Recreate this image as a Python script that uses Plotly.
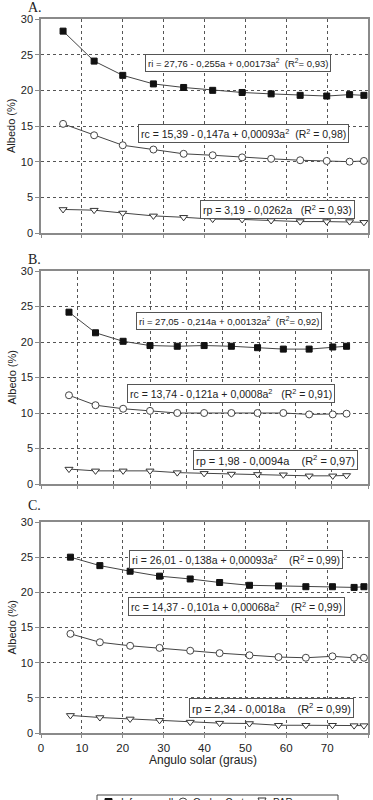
import plotly.graph_objects as go

W, H = 373, 800

# ---------------- data ----------------
xA = [5.4, 13.0, 20.0, 27.5, 34.9, 42.0, 49.2, 56.3, 63.4, 69.9, 75.5, 79.0]
riA = [28.3, 24.1, 22.1, 20.9, 20.4, 20.0, 19.7, 19.5, 19.3, 19.2, 19.4, 19.3]
rcA = [15.3, 13.7, 12.3, 11.7, 11.1, 10.9, 10.6, 10.4, 10.2, 10.1, 10.0, 10.1]
rpA = [3.3, 3.2, 2.8, 2.4, 2.2, 1.95, 1.9, 1.75, 1.6, 1.6, 1.6, 1.5]

xB = [7.7, 15.0, 22.6, 30.0, 37.5, 44.9, 52.4, 59.6, 66.7, 73.8, 80.3, 84.1]
riB = [24.2, 21.3, 20.1, 19.5, 19.4, 19.5, 19.4, 19.2, 19.0, 19.0, 19.3, 19.4]
rcB = [12.5, 11.1, 10.6, 10.3, 10.0, 10.0, 10.0, 10.0, 10.0, 9.8, 9.8, 9.9]
rpB = [2.1, 1.85, 1.85, 1.85, 1.6, 1.5, 1.4, 1.35, 1.3, 1.15, 1.15, 1.2]

xC = [7.2, 14.4, 21.8, 29.0, 36.5, 43.7, 51.0, 58.1, 64.8, 71.3, 76.6, 79.0]
riC = [25.0, 23.8, 23.0, 22.3, 21.9, 21.4, 21.0, 20.9, 20.8, 20.8, 20.7, 20.8]
rcC = [14.1, 12.9, 12.4, 12.1, 11.7, 11.35, 11.05, 10.8, 10.7, 10.9, 10.7, 10.7]
rpC = [2.5, 2.2, 2.0, 1.8, 1.55, 1.4, 1.35, 1.1, 1.1, 1.1, 1.05, 1.05]

series_names = ["Infravermelho", "Ondas Curtas", "PAR"]
panel_labels = ["A.", "B.", "C."]
x_ranges = [[0, 80], [0, 90], [0, 80]]
x_title = "Angulo solar (graus)"
y_title = "Albedo (%)"

eqs = [
    ["ri = 27,76 - 0,255a + 0,00173a<sup>2</sup>  (R<sup>2</sup>= 0,93)",
     "rc = 15,39 - 0,147a + 0,00093a<sup>2</sup>  (R<sup>2</sup> = 0,98)",
     "rp = 3,19 - 0,0262a   (R<sup>2</sup> = 0,93)"],
    ["ri = 27,05 - 0,214a + 0,00132a<sup>2</sup>  (R<sup>2</sup>= 0,92)",
     "rc = 13,74 - 0,121a + 0,0008a<sup>2</sup>   (R<sup>2</sup> = 0,91)",
     "rp = 1,98 - 0,0094a    (R<sup>2</sup> = 0,97)"],
    ["ri = 26,01 - 0,138a + 0,00093a<sup>2</sup>    (R<sup>2</sup> = 0,99)",
     "rc = 14,37 - 0,101a + 0,00068a<sup>2</sup>    (R<sup>2</sup> = 0,99)",
     "rp = 2,34 - 0,0018a    (R<sup>2</sup> = 0,99)"],
]

# ---------------- layout geometry (pixels) ----------------
px_left, px_right = 41, 368
panels_px = [(19, 233), (271, 484), (522, 733)]
eq_pos = [
    [(238, 62.5, 9.5), (243, 133, 10.5), (277, 209, 10.5)],
    [(229, 321, 9.5), (231, 394, 10.5), (275, 460, 11)],
    [(236, 559, 10.5), (236, 606, 10.5), (271, 708, 11)],
]
label_pos = [(26, 7), (26, 259), (26, 506)]

FONT = "Liberation Sans, Arial, sans-serif"
SERIF = "Liberation Serif, Times New Roman, serif"


def px2paper(x, y):
    return x / W, 1 - y / H


fig = go.Figure()
datasets = [(xA, riA, rcA, rpA), (xB, riB, rcB, rpB), (xC, riC, rcC, rpC)]
marker_styles = [
    dict(symbol="square", size=6, color="#111111", line=dict(color="#111111", width=1)),
    dict(symbol="circle", size=7, color="white", line=dict(color="#444444", width=1)),
    dict(symbol="triangle-down", size=7, color="white", line=dict(color="#333333", width=1)),
]

for i, (xs, ri, rc, rp) in enumerate(datasets):
    suf = "" if i == 0 else str(i + 1)
    for j, ys in enumerate([ri, rc, rp]):
        fig.add_trace(go.Scatter(
            x=xs, y=ys, mode="lines+markers", name=series_names[j],
            line=dict(color="#444444", width=1),
            marker=marker_styles[j],
            xaxis="x" + suf, yaxis="y" + suf,
            showlegend=False, cliponaxis=False,
        ))

annotations = []
shapes = []
layout_axes = {}
for i in range(3):
    top, bot = panels_px[i]
    suf = "" if i == 0 else str(i + 1)
    layout_axes["xaxis" + suf] = dict(
        domain=[px_left / W, px_right / W], range=x_ranges[i], dtick=10,
        anchor="y" + suf, showgrid=True, griddash="dot", gridcolor="#555555", gridwidth=1,
        showline=True, linecolor="#8a8a8a", linewidth=1.5, mirror=True,
        ticks="outside", ticklen=3, tickcolor="#8a8a8a",
        showticklabels=(i == 2), zeroline=False,
        tickfont=dict(family=FONT, size=11.5, color="#222"),
    )
    layout_axes["yaxis" + suf] = dict(
        domain=[1 - bot / H, 1 - top / H], range=[0, 30], dtick=5,
        anchor="x" + suf, showgrid=True, griddash="dot", gridcolor="#555555", gridwidth=1,
        showline=True, linecolor="#8a8a8a", linewidth=1.5, mirror=True,
        ticks="outside", ticklen=4, tickcolor="#8a8a8a", zeroline=False,
        tickfont=dict(family=FONT, size=11, color="#222"),
    )
    annotations.append(dict(
        text=y_title, x=11 / W, y=1 - ((top + bot) / 2) / H, xref="paper", yref="paper",
        textangle=-90, showarrow=False, xanchor="center", yanchor="middle",
        font=dict(family=FONT, size=11, color="#222"),
    ))
    lx, ly = label_pos[i]
    annotations.append(dict(
        text=panel_labels[i], x=lx / W, y=1 - ly / H, xref="paper", yref="paper",
        showarrow=False, xanchor="left", yanchor="middle",
        font=dict(family=SERIF, size=14, color="#222"),
    ))
    for k in range(3):
        ex, ey, fs = eq_pos[i][k]
        annotations.append(dict(
            text=eqs[i][k], x=ex / W, y=1 - ey / H, xref="paper", yref="paper",
            showarrow=False, xanchor="center", yanchor="middle",
            font=dict(family=FONT, size=fs, color="#222"),
            bordercolor="#555555", borderwidth=1, borderpad=2, bgcolor="white",
        ))

annotations.append(dict(
    text=x_title, x=203 / W, y=1 - 760 / H, xref="paper", yref="paper",
    showarrow=False, xanchor="center", yanchor="middle",
    font=dict(family=FONT, size=12, color="#222"),
))

# ---------------- legend (cut off at the bottom edge, as in the reference) ----------------
leg_box = (97, 795, 338, 818)
x0, y0 = px2paper(leg_box[0], leg_box[1])
x1, y1 = px2paper(leg_box[2], leg_box[3])
shapes.append(dict(type="rect", xref="paper", yref="paper", x0=x0, y0=y0, x1=x1, y1=y1,
                   line=dict(color="#444444", width=1), fillcolor="white", layer="above"))
leg_y = 802
leg_items = [  # (line start, line end, marker center, text start)
    (100, 117, 108.5, 119),
    (177, 189, 183, 191),
    (256, 268, 262, 271),
]
for j, (ls, le, mc, ts) in enumerate(leg_items):
    a = px2paper(ls, leg_y)
    b = px2paper(le, leg_y)
    shapes.append(dict(type="line", xref="paper", yref="paper", x0=a[0], y0=a[1], x1=b[0], y1=b[1],
                       line=dict(color="#444444", width=1), layer="above"))
    if j == 0:
        p = px2paper(mc - 3.5, leg_y - 3.5)
        q = px2paper(mc + 3.5, leg_y + 3.5)
        shapes.append(dict(type="rect", xref="paper", yref="paper", x0=p[0], y0=p[1], x1=q[0], y1=q[1],
                           line=dict(color="#111111", width=1), fillcolor="#111111", layer="above"))
    elif j == 1:
        p = px2paper(mc - 4, leg_y - 4)
        q = px2paper(mc + 4, leg_y + 4)
        shapes.append(dict(type="circle", xref="paper", yref="paper", x0=p[0], y0=p[1], x1=q[0], y1=q[1],
                           line=dict(color="#444444", width=1), fillcolor="white", layer="above"))
    else:
        t1 = px2paper(mc - 4, leg_y - 4)
        t2 = px2paper(mc + 4, leg_y - 4)
        t3 = px2paper(mc, leg_y + 4)
        path = f"M {t1[0]} {t1[1]} L {t2[0]} {t2[1]} L {t3[0]} {t3[1]} Z"
        shapes.append(dict(type="path", xref="paper", yref="paper", path=path,
                           line=dict(color="#333333", width=1), fillcolor="white", layer="above"))
    annotations.append(dict(
        text=series_names[j], x=ts / W, y=1 - leg_y / H, xref="paper", yref="paper",
        showarrow=False, xanchor="left", yanchor="middle",
        font=dict(family=FONT, size=10, color="#222"),
    ))

fig.update_layout(
    width=W, height=H,
    margin=dict(l=0, r=0, t=0, b=0, autoexpand=False),
    paper_bgcolor="white", plot_bgcolor="white",
    annotations=annotations,
    shapes=shapes,
    showlegend=False,
    **layout_axes,
)

fig.write_html("out.html")
